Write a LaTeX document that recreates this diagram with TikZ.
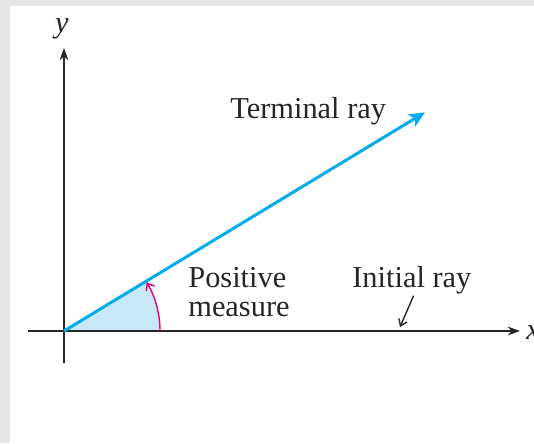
\documentclass[tikz,border=0pt]{standalone}
\usepackage{fontspec}
\setmainfont{Liberation Serif}
\usetikzlibrary{arrows.meta}

\definecolor{raycyan}{RGB}{0,172,236}
\definecolor{wedgeblue}{RGB}{200,233,248}
\definecolor{arcmagenta}{RGB}{228,0,124}
\definecolor{framegray}{RGB}{230,230,230}

\begin{document}
\begin{tikzpicture}[x=0.02cm, y=0.02cm,
  axis/.style={line width=0.8pt, black!85, -{Stealth[length=7pt,width=5pt]}},
  termray/.style={line width=1.7pt, raycyan, -{Stealth[length=9pt,width=8pt,inset=2.5pt]}},
  anglearc/.style={line width=0.8pt, arcmagenta, -{Straight Barb[length=3.5pt,width=5.5pt]}},
  pointer/.style={line width=0.8pt, black!85, -{Straight Barb[length=3.5pt,width=5pt]}},
  lbl/.style={font=\fontsize{17.3}{16.5}\selectfont, inner sep=0pt, text=black!85},
]
  % frame
  \fill[framegray] (-64,-112) rectangle (470,331);
  \fill[white] (-54,-112) rectangle (470,325);
  \useasboundingbox (-64,-112) rectangle (470,331);

  \coordinate (O) at (0,0);
  \coordinate (xend) at (456,0);
  \coordinate (xbeg) at (-36,0);
  \coordinate (yend) at (0,283);
  \coordinate (ybeg) at (0,-32);
  \coordinate (T) at (31.2:422);
  \coordinate (onaxis) at (336,4);

  % shaded angle
  \fill[wedgeblue] (O) -- (96,0) arc (0:31.2:96) -- cycle;

  % axes
  \draw[axis] (xbeg) -- (xend);
  \draw[axis] (ybeg) -- (yend);
  \node[lbl, anchor=west] (xlbl) at (462,-2) {\textit{x}};
  \node[lbl, anchor=south] (ylbl) at (-2,292) {\textit{y}};

  % rays
  \draw[termray] (O) -- (T);
  \draw[anglearc] (96,0) arc (0:30.5:96);

  % labels
  \node[lbl, anchor=base west] (term) at (166,213) {Terminal ray};
  \node[lbl, anchor=base west, align=left] (posm) at (124,15) {Positive\\measure};
  \node[lbl, anchor=base west] (init) at (288,44) {Initial ray};
  \draw[pointer] ([xshift=1pt,yshift=-1pt]init.south) -- (onaxis);
\end{tikzpicture}
\end{document}
